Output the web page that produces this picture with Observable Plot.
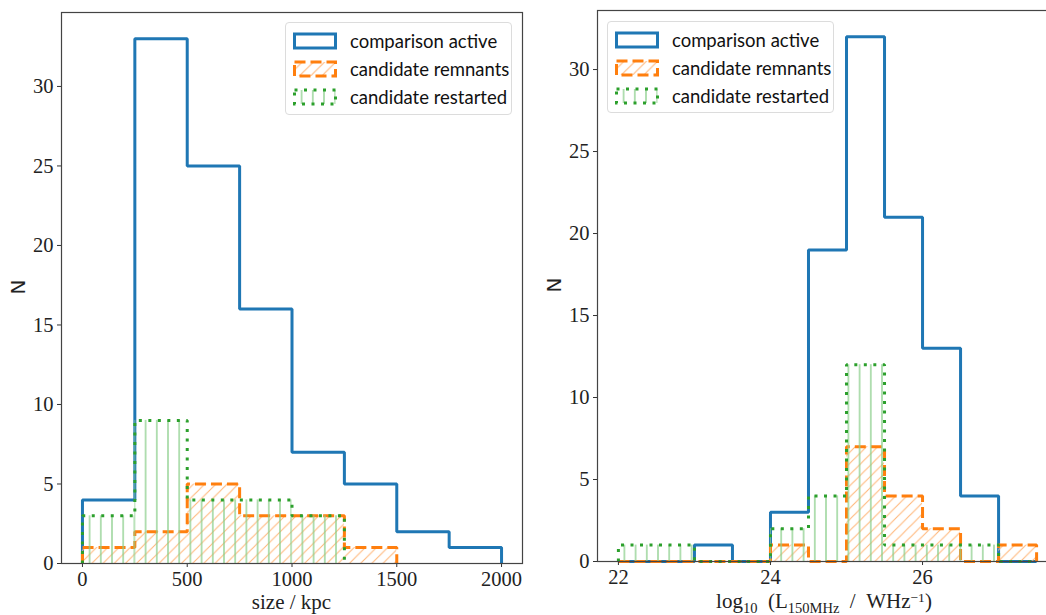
<!DOCTYPE html>
<html><head><meta charset="utf-8">
<script src="https://cdn.jsdelivr.net/npm/d3@7"></script>
<script src="https://cdn.jsdelivr.net/npm/@observablehq/plot@0.6"></script>
<style>
html,body{margin:0;padding:0;background:#fff;}
#wrap{position:relative;width:1046px;height:615px;overflow:hidden;background:#fff}
.panel{position:absolute;top:0}
.legend{position:absolute;background:rgba(255,255,255,0.85);border:1px solid #dcdcdc;border-radius:4px;box-sizing:border-box}
.row{position:absolute;left:0;height:28px;display:flex;align-items:center}
.row svg{position:absolute;left:7px}
.row span{position:absolute;left:64px;white-space:nowrap;font-family:Lato,"Open Sans",sans-serif;font-size:18.5px;color:#111;line-height:28px}
</style></head>
<body><div id="wrap"></div>
<script>
// ---------- data ----------
const sizeEdges = [0, 250, 500, 750, 1000, 1250, 1500, 1750, 2000];
const sizeActive = [4, 33, 25, 16, 7, 5, 2, 1];
const sizeRemnantEdges = [0, 250, 500, 750, 1000, 1250, 1500];
const sizeRemnants = [1, 2, 5, 3, 3, 1];
const sizeRestartedEdges = [0, 250, 500, 750, 1000, 1250];
const sizeRestarted = [3, 9, 4, 4, 3];

const lumEdges = [22, 22.5, 23, 23.5, 24, 24.5, 25, 25.5, 26, 26.5, 27, 27.5];
const lumActive = [0, 0, 1, 0, 3, 19, 32, 21, 13, 4, 0];
const lumRemnants = [0, 0, 0, 0, 1, 0, 7, 4, 2, 0, 1];
const lumRestarted = [1, 1, 0, 0, 2, 4, 12, 1, 1, 1, 0];

const sizeTicks = [0, 500, 1000, 1500, 2000];
const lumTicks = [22, 24, 26];
const countTicks = [0, 5, 10, 15, 20, 25, 30];
const seriesNames = ["comparison active", "candidate remnants", "candidate restarted"];

const C_BLUE = "#1f77b4", C_ORANGE = "#ff7f0e", C_GREEN = "#2ca02c";
const H_ORANGE = "#ffb77a", H_GREEN = "#8ccf8c";
const DASH = "11,5", DOT = "3,6.5";

// ---------- helpers ----------
function stepPoints(edges, counts) {
  const pts = [{x: edges[0], y: 0}];
  counts.forEach((c, i) => { pts.push({x: edges[i], y: c}, {x: edges[i + 1], y: c}); });
  pts.push({x: edges[counts.length], y: 0});
  return pts;
}
function bins(edges, counts) {
  return counts.map((c, i) => ({x1: edges[i], x2: edges[i + 1], y1: 0, y2: c}));
}
function addPatterns(svg, id, ox) {
  const s = 11.2;
  const defs = d3.select(svg).insert("defs", ":first-child");
  const po = defs.append("pattern").attr("id", "hO" + id).attr("patternUnits", "userSpaceOnUse")
    .attr("width", s).attr("height", s).attr("x", ox);
  po.append("path").attr("d", `M0,${s} L${s},0 M${-s/2},${s/2} L${s/2},${-s/2} M${s/2},${1.5*s} L${1.5*s},${s/2}`)
    .attr("stroke", H_ORANGE).attr("stroke-width", 1.1).attr("fill", "none");
  const pg = defs.append("pattern").attr("id", "hG" + id).attr("patternUnits", "userSpaceOnUse")
    .attr("width", s).attr("height", s).attr("x", ox);
  pg.append("path").attr("d", `M${s/2},0 L${s/2},${s}`)
    .attr("stroke", H_GREEN).attr("stroke-width", 1.3).attr("fill", "none");
}

function histPlot(o) {
  const marks = [
    Plot.line(stepPoints(o.edges, o.active), {x: "x", y: "y", stroke: C_BLUE, strokeWidth: 3, strokeLinejoin: "miter", strokeLinecap: "butt"}),
    Plot.rect(bins(o.remEdges, o.rem), {x1: "x1", x2: "x2", y1: "y1", y2: "y2", fill: `url(#hO${o.id})`}),
    Plot.line(stepPoints(o.remEdges, o.rem), {x: "x", y: "y", stroke: C_ORANGE, strokeWidth: 3, strokeDasharray: DASH, strokeLinejoin: "miter", strokeLinecap: "butt"}),
    Plot.rect(bins(o.resEdges, o.res), {x1: "x1", x2: "x2", y1: "y1", y2: "y2", fill: `url(#hG${o.id})`}),
    Plot.line(stepPoints(o.resEdges, o.res), {x: "x", y: "y", stroke: C_GREEN, strokeWidth: 3, strokeDasharray: DOT, strokeLinejoin: "miter", strokeLinecap: "butt"}),
    Plot.axisX({ticks: o.xticks, tickSize: 4, tickPadding: 4, fontSize: 20.5, label: null, stroke: "#333", fill: "#222", tickFormat: d => String(d)}),
    Plot.axisY({ticks: countTicks, tickSize: 4, tickPadding: 4, fontSize: 20.5, label: null, stroke: "#333", fill: "#222"}),
    Plot.frame({stroke: "#444", strokeWidth: 1.2})
  ];
  const svg = Plot.plot({
    width: o.width, height: 615,
    marginLeft: o.ml, marginRight: o.mr, marginTop: o.mt, marginBottom: o.mb,
    x: {domain: o.xdomain},
    y: {domain: o.ydomain},
    style: {fontFamily: "'Liberation Serif', serif", fontSize: "20px", background: "transparent", overflow: "visible"},
    marks
  });
  addPatterns(svg, o.id, o.hx);
  return svg;
}

const wrap = document.getElementById("wrap");

// ---------- left panel ----------
const left = histPlot({id: "L", width: 530, ml: 61, mr: 8, mt: 12, mb: 52,
  xdomain: [-100, 2100], ydomain: [0, 34.65], xticks: sizeTicks, hx: 5.6,
  edges: sizeEdges, active: sizeActive, remEdges: sizeRemnantEdges, rem: sizeRemnants,
  resEdges: sizeRestartedEdges, res: sizeRestarted});
left.classList.add("panel"); left.style.left = "0px";
wrap.appendChild(left);
{
  const s = d3.select(left);
  s.append("text").attr("x", 291.5).attr("y", 609).attr("text-anchor", "middle")
    .attr("font-family", "'Liberation Serif', serif").attr("font-size", 21).attr("fill", "#222").text("size / kpc");
  s.append("text").attr("transform", "translate(25,287) rotate(-90)").attr("text-anchor", "middle")
    .attr("font-family", "'DejaVu Sans', sans-serif").attr("font-size", 20).attr("fill", "#222").text("N");
}

// ---------- right panel ----------
const right = histPlot({id: "R", width: 537, ml: 67, mr: 10, mt: 10, mb: 54,
  xdomain: [21.725, 27.775], ydomain: [0, 33.6], xticks: lumTicks, hx: 10.4,
  edges: lumEdges, active: lumActive, remEdges: lumEdges, rem: lumRemnants,
  resEdges: lumEdges, res: lumRestarted});
right.classList.add("panel"); right.style.left = "530px";
wrap.appendChild(right);
{
  const s = d3.select(right);
  const t = s.append("text").attr("x", 294).attr("y", 608).attr("text-anchor", "middle")
    .attr("font-family", "'Liberation Serif', serif").attr("font-size", 21).attr("fill", "#222");
  t.append("tspan").text("log");
  t.append("tspan").attr("dy", 5).attr("font-size", 14.5).text("10");
  t.append("tspan").attr("dy", -5).text("\u2002(L");
  t.append("tspan").attr("dy", 5).attr("font-size", 14.5).text("150MHz");
  t.append("tspan").attr("dy", -5).text("\u2002/\u2002WHz");
  t.append("tspan").attr("dy", -6).attr("font-size", 13.5).text("\u22121");
  t.append("tspan").attr("dy", 6).text(")");
  s.append("text").attr("transform", "translate(31,285) rotate(-90)").attr("text-anchor", "middle")
    .attr("font-family", "'DejaVu Sans', sans-serif").attr("font-size", 20).attr("fill", "#222").text("N");
}

// ---------- legends ----------
function swatch(kind, id) {
  const svg = d3.create("svg").attr("width", 44).attr("height", 18);
  const s = 11.2;
  const defs = svg.append("defs");
  if (kind === 1) {
    const p = defs.append("pattern").attr("id", "sw" + id).attr("patternUnits", "userSpaceOnUse").attr("width", s).attr("height", s);
    p.append("path").attr("d", `M0,${s} L${s},0 M${-s/2},${s/2} L${s/2},${-s/2} M${s/2},${1.5*s} L${1.5*s},${s/2}`).attr("stroke", H_ORANGE).attr("stroke-width", 1.1);
  } else if (kind === 2) {
    const p = defs.append("pattern").attr("id", "sw" + id).attr("patternUnits", "userSpaceOnUse").attr("width", s).attr("height", s).attr("x", 3);
    p.append("path").attr("d", `M${s/2},0 L${s/2},${s}`).attr("stroke", H_GREEN).attr("stroke-width", 1.3);
  }
  const r = svg.append("rect").attr("x", 1.5).attr("y", 2).attr("width", 41).attr("height", 14)
    .attr("stroke-width", 3).attr("fill", kind === 0 ? "none" : `url(#sw${id})`);
  if (kind === 0) r.attr("stroke", C_BLUE);
  if (kind === 1) r.attr("stroke", C_ORANGE).attr("stroke-dasharray", DASH);
  if (kind === 2) r.attr("stroke", C_GREEN).attr("stroke-dasharray", DOT);
  return svg.node();
}
function legend(x, y, w, h, tag) {
  const box = document.createElement("div");
  box.className = "legend";
  Object.assign(box.style, {left: x + "px", top: y + "px", width: w + "px", height: h + "px"});
  seriesNames.forEach((name, i) => {
    const row = document.createElement("div");
    row.className = "row";
    row.style.top = (4 + i * 28) + "px";
    row.style.width = w + "px";
    const sw = swatch(i, tag + i);
    sw.style.top = "5px";
    row.appendChild(sw);
    const sp = document.createElement("span");
    sp.textContent = name;
    row.appendChild(sp);
    box.appendChild(row);
  });
  wrap.appendChild(box);
}
legend(285, 22, 227, 93, "L");
legend(607, 21, 227, 92, "R");
</script></body></html>
